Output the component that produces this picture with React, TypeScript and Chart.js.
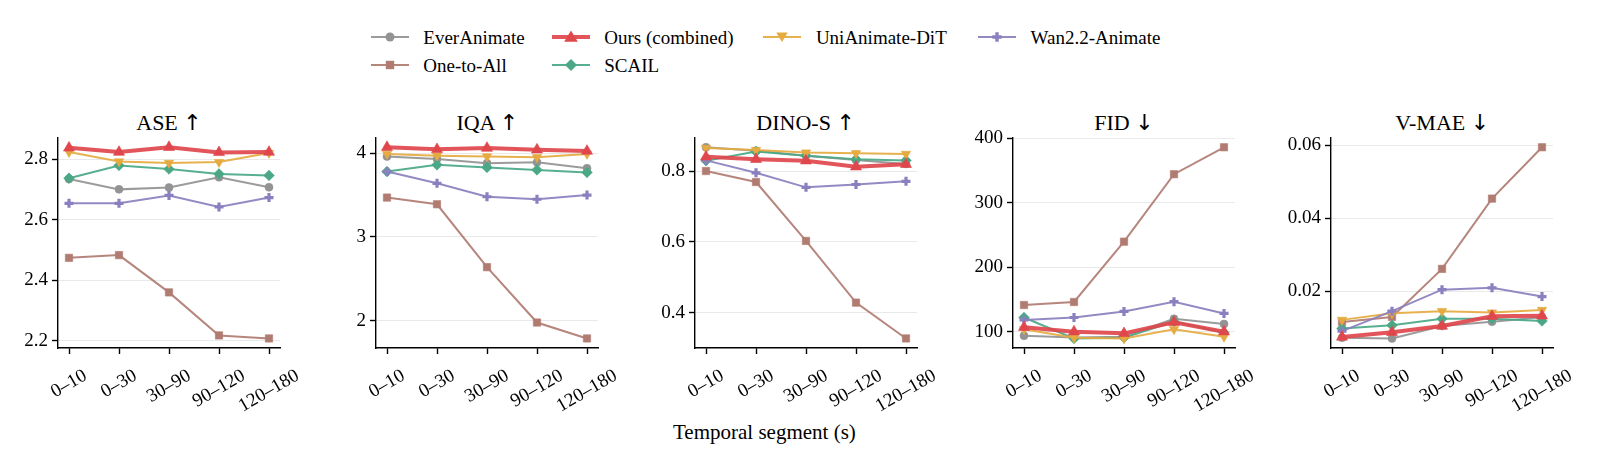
import React, { useEffect, useRef } from "react";
import { Chart, registerables } from "chart.js";

Chart.register(...registerables);

// ---------- data ----------
const SEGMENTS = ["0–10", "0–30", "30–90", "90–120", "120–180"];
const METHODS = ["EverAnimate", "One-to-All", "Ours (combined)", "SCAIL", "UniAnimate-DiT", "Wan2.2-Animate"];

const ASE_EVER = [2.734, 2.7, 2.706, 2.74, 2.707];
const ASE_ONE = [2.474, 2.483, 2.36, 2.218, 2.208];
const ASE_OURS = [2.837, 2.823, 2.839, 2.822, 2.823];
const ASE_SCAIL = [2.737, 2.779, 2.767, 2.751, 2.746];
const ASE_UNI = [2.823, 2.792, 2.787, 2.79, 2.82];
const ASE_WAN = [2.654, 2.654, 2.68, 2.642, 2.673];
const ASE_TICKS = ["2.2", "2.4", "2.6", "2.8"];

const IQA_EVER = [3.96, 3.93, 3.88, 3.89, 3.82];
const IQA_ONE = [3.47, 3.39, 2.64, 1.98, 1.79];
const IQA_OURS = [4.07, 4.045, 4.06, 4.04, 4.025];
const IQA_SCAIL = [3.78, 3.86, 3.83, 3.8, 3.77];
const IQA_UNI = [3.99, 3.97, 3.96, 3.95, 3.99];
const IQA_WAN = [3.78, 3.64, 3.48, 3.45, 3.5];
const IQA_TICKS = ["2", "3", "4"];

const DINO_EVER = [0.867, 0.857, 0.843, 0.831, 0.82];
const DINO_ONE = [0.8, 0.769, 0.603, 0.429, 0.328];
const DINO_OURS = [0.84, 0.833, 0.829, 0.812, 0.819];
const DINO_SCAIL = [0.829, 0.855, 0.843, 0.833, 0.83];
const DINO_UNI = [0.865, 0.859, 0.852, 0.85, 0.848];
const DINO_WAN = [0.83, 0.795, 0.754, 0.762, 0.771];
const DINO_TICKS = ["0.4", "0.6", "0.8"];

const FID_EVER = [93.7, 91.1, 92.1, 119.9, 112];
const FID_ONE = [141.4, 146.1, 239.8, 344.5, 386.4];
const FID_OURS = [106.8, 100, 97.4, 114.7, 100];
const FID_SCAIL = [122, 89.5, 90.6, 115.7, 98.4];
const FID_UNI = [103.7, 90.6, 89.5, 103.7, 92.1];
const FID_WAN = [118.3, 122, 131.4, 146.6, 128.3];
const FID_TICKS = ["100", "200", "300", "400"];

const VMAE_EVER = [0.0072, 0.007, 0.0104, 0.0116, 0.0128];
const VMAE_ONE = [0.0115, 0.0129, 0.0261, 0.0454, 0.0595];
const VMAE_OURS = [0.0074, 0.0087, 0.0104, 0.0131, 0.0132];
const VMAE_SCAIL = [0.0097, 0.0106, 0.0124, 0.0124, 0.0118];
const VMAE_UNI = [0.0121, 0.0139, 0.0145, 0.0141, 0.0148];
const VMAE_WAN = [0.009, 0.0145, 0.0204, 0.0209, 0.0185];
const VMAE_TICKS = ["0.02", "0.04", "0.06"];

const PANELS = [
  { name: "ASE", arrow: "↑", series: [ASE_EVER, ASE_ONE, ASE_OURS, ASE_SCAIL, ASE_UNI, ASE_WAN], ticks: ASE_TICKS },
  { name: "IQA", arrow: "↑", series: [IQA_EVER, IQA_ONE, IQA_OURS, IQA_SCAIL, IQA_UNI, IQA_WAN], ticks: IQA_TICKS },
  { name: "DINO-S", arrow: "↑", series: [DINO_EVER, DINO_ONE, DINO_OURS, DINO_SCAIL, DINO_UNI, DINO_WAN], ticks: DINO_TICKS },
  { name: "FID", arrow: "↓", series: [FID_EVER, FID_ONE, FID_OURS, FID_SCAIL, FID_UNI, FID_WAN], ticks: FID_TICKS },
  { name: "V-MAE", arrow: "↓", series: [VMAE_EVER, VMAE_ONE, VMAE_OURS, VMAE_SCAIL, VMAE_UNI, VMAE_WAN], ticks: VMAE_TICKS },
];

// ---------- styles ----------
type Style = { color: string; shape: string; radius: number; rotation: number; width: number; ptBorder: number; order: number };
const STYLES: Record<string, Style> = {
  "EverAnimate": { color: "#939393", shape: "circle", radius: 4, rotation: 0, width: 2, ptBorder: 1, order: 6 },
  "One-to-All": { color: "#b07c72", shape: "rect", radius: 5.2, rotation: 0, width: 2, ptBorder: 1, order: 5 },
  "Ours (combined)": { color: "#e0474c", shape: "triangle", radius: 6.4, rotation: 0, width: 4, ptBorder: 1, order: 0 },
  "SCAIL": { color: "#4aa886", shape: "rectRot", radius: 5.3, rotation: 0, width: 2, ptBorder: 1, order: 4 },
  "UniAnimate-DiT": { color: "#e5aa40", shape: "triangle", radius: 5.4, rotation: 180, width: 2, ptBorder: 1, order: 3 },
  "Wan2.2-Animate": { color: "#8a80bf", shape: "cross", radius: 4.5, rotation: 0, width: 2, ptBorder: 3.2, order: 2 },
};

const FONT = '"Liberation Serif", "Times New Roman", serif';
const TICK_FS = 19;
const PANEL_LEFT0 = 58;
const PANEL_STEP = 318.3;
const PLOT_W = 222;
const Y_AXIS_W = 60;
const X_AXIS_H = 72;
const CANVAS_TOP = 130;
const CANVAS_H = 290;
const PAD_TOP = 7;
const CANVAS_W = 305;

function hexA(hex: string, a: number) {
  const n = parseInt(hex.slice(1), 16);
  return `rgba(${(n >> 16) & 255},${(n >> 8) & 255},${n & 255},${a})`;
}

const xTickLabelPlugin = {
  id: "xTickLabels",
  afterDraw(chart: any) {
    const { ctx, chartArea } = chart;
    const xs = chart.scales.x;
    ctx.save();
    ctx.font = `${TICK_FS}px ${FONT}`;
    ctx.fillStyle = "#000";
    ctx.textAlign = "center";
    ctx.textBaseline = "middle";
    SEGMENTS.forEach((lab, i) => {
      const px = xs.getPixelForValue(i);
      const w = ctx.measureText(lab).width;
      const cy = chartArea.bottom + 21 + (w * 0.5 + 0.585 * TICK_FS) / 2;
      ctx.save();
      ctx.translate(px, cy);
      ctx.rotate(-Math.PI / 6);
      ctx.fillText(lab, 0, 0);
      ctx.restore();
    });
    ctx.restore();
  },
};

function Panel({ index }: { index: number }) {
  const ref = useRef<HTMLCanvasElement | null>(null);
  const p = PANELS[index];
  const left = PANEL_LEFT0 + PANEL_STEP * index;

  useEffect(() => {
    if (!ref.current) return;
    const all = p.series.flat();
    const dmin = Math.min(...all);
    const dmax = Math.max(...all);
    const r = dmax - dmin;
    const tickVals = p.ticks.map((t) => parseFloat(t));
    const chart = new Chart(ref.current, {
      type: "line",
      data: {
        datasets: METHODS.map((m, k) => {
          const st = STYLES[m];
          return {
            label: m,
            data: p.series[k].map((v, i) => ({ x: i, y: v })),
            borderColor: hexA(st.color, 0.92),
            backgroundColor: st.color,
            borderWidth: st.width,
            pointStyle: st.shape as any,
            pointRadius: st.radius,
            pointRotation: st.rotation,
            pointBackgroundColor: st.color,
            pointBorderColor: st.shape === "cross" ? st.color : hexA(st.color, 0.6),
            pointBorderWidth: st.ptBorder,
            tension: 0,
            order: st.order,
            clip: false as any,
          };
        }),
      },
      options: {
        animation: false,
        responsive: false,
        devicePixelRatio: 1,
        layout: { padding: { top: PAD_TOP, right: CANVAS_W - Y_AXIS_W - PLOT_W, left: 0, bottom: 0 } },
        plugins: { legend: { display: false }, tooltip: { enabled: false }, title: { display: false } },
        scales: {
          x: {
            type: "linear",
            min: -0.22,
            max: 4.22,
            afterBuildTicks: (s: any) => {
              s.ticks = SEGMENTS.map((_, i) => ({ value: i }));
            },
            afterFit: (s: any) => {
              s.height = X_AXIS_H;
              s.paddingLeft = 0;
              s.paddingRight = 0;
              s.paddingTop = 0;
              s.paddingBottom = 0;
            },
            ticks: { display: false },
            grid: { drawOnChartArea: false, drawTicks: true, tickLength: 6, tickColor: "#000", tickWidth: 1.4 },
            border: { color: "#000", width: 1.4 },
          },
          y: {
            type: "linear",
            min: dmin - 0.05 * r,
            max: dmax + 0.05 * r,
            afterBuildTicks: (s: any) => {
              s.ticks = tickVals.map((v) => ({ value: v }));
            },
            afterFit: (s: any) => {
              s.width = Y_AXIS_W;
              s.paddingTop = 0;
              s.paddingBottom = 0;
              s.paddingLeft = 0;
              s.paddingRight = 0;
            },
            ticks: {
              callback: (_v: any, idx: number) => p.ticks[idx],
              font: { family: FONT, size: TICK_FS },
              color: "#000",
              padding: 4,
            },
            grid: { color: "#e9e9e9", lineWidth: 1, drawTicks: true, tickLength: 6, tickColor: "#000", tickWidth: 1.4 },
            border: { color: "#000", width: 1.4 },
          },
        },
      },
      plugins: [xTickLabelPlugin],
    });
    return () => chart.destroy();
  }, [index]);

  return (
    <>
      <div
        style={{
          position: "absolute",
          left: left + PLOT_W / 2 - 100,
          top: 112,
          width: 200,
          textAlign: "center",
          fontSize: 22,
          lineHeight: "22px",
          whiteSpace: "nowrap",
        }}
      >
        {p.name} <span style={{ fontFamily: '"DejaVu Sans", sans-serif', color: "#000" }}>{p.arrow + "\uFE0E"}</span>
      </div>
      <canvas
        ref={ref}
        width={CANVAS_W}
        height={CANVAS_H}
        style={{ position: "absolute", left: left - Y_AXIS_W, top: CANVAS_TOP, width: CANVAS_W, height: CANVAS_H }}
      />
    </>
  );
}

function Marker({ shape, color, rotation }: { shape: string; color: string; rotation: number }) {
  if (shape === "circle") return <circle cx={19} cy={9} r={4.5} fill={color} />;
  if (shape === "rect") return <rect x={14.8} y={4.8} width={8.4} height={8.4} fill={color} />;
  if (shape === "rectRot") return <polygon points="19,3 25,9 19,15 13,9" fill={color} />;
  if (shape === "cross")
    return <path d="M17.3,4.3 h3.4 v3 h3 v3.4 h-3 v3 h-3.4 v-3 h-3 v-3.4 h3 z" fill={color} />;
  if (shape === "triangle") {
    if (rotation === 180) return <polygon points="13.3,4.6 24.7,4.6 19,14" fill={color} />;
    return <polygon points="19,2.5 25.8,13.8 12.2,13.8" fill={color} />;
  }
  return null;
}

const LEGEND_COLS = [370.7, 551.7, 763.3, 978];
const LEGEND_ROWS = [37, 65.3];
const LEGEND_POS: Record<string, [number, number]> = {
  "EverAnimate": [0, 0],
  "One-to-All": [0, 1],
  "Ours (combined)": [1, 0],
  "SCAIL": [1, 1],
  "UniAnimate-DiT": [2, 0],
  "Wan2.2-Animate": [3, 0],
};

function Legend() {
  return (
    <>
      {METHODS.map((m) => {
        const st = STYLES[m];
        const [c, r] = LEGEND_POS[m];
        const x = LEGEND_COLS[c];
        const y = LEGEND_ROWS[r];
        return (
          <React.Fragment key={m}>
            <svg style={{ position: "absolute", left: x, top: y - 9 }} width={38} height={18}>
              <line x1={0} y1={9} x2={38} y2={9} stroke={hexA(st.color, 0.92)} strokeWidth={st.width} />
              <Marker shape={st.shape} color={st.color} rotation={st.rotation} />
            </svg>
            <div
              style={{
                position: "absolute",
                left: x + 52.6,
                top: y - 9.2,
                fontSize: 19,
                lineHeight: "19px",
                whiteSpace: "nowrap",
              }}
            >
              {m}
            </div>
          </React.Fragment>
        );
      })}
    </>
  );
}

export default function App() {
  return (
    <div
      style={{
        position: "absolute",
        left: 0,
        top: 0,
        width: 1600,
        height: 467,
        background: "#fff",
        fontFamily: FONT,
        color: "#000",
        overflow: "hidden",
      }}
    >
      <Legend />
      {PANELS.map((_, i) => (
        <Panel key={i} index={i} />
      ))}
      <div style={{ position: "absolute", left: 673, top: 421.7, fontSize: 21, lineHeight: "21px", whiteSpace: "nowrap" }}>
        Temporal segment (s)
      </div>
    </div>
  );
}
